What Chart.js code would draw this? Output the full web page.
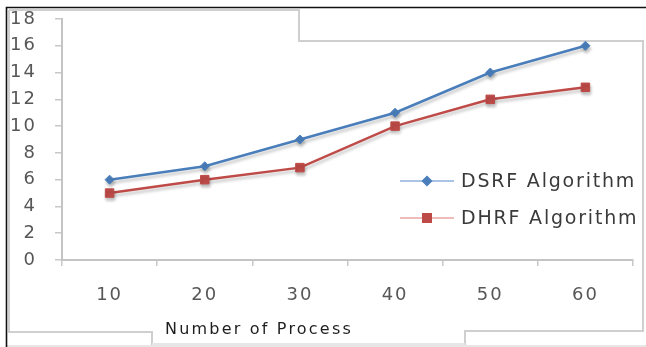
<!DOCTYPE html>
<html>
<head>
<meta charset="utf-8">
<script src="https://cdn.jsdelivr.net/npm/chart.js@4/dist/chart.umd.min.js"></script>
<style>
  html, body { margin: 0; padding: 0; background: #fff; }
  #wrap { width: 646px; height: 347px; position: relative; }
</style>
</head>
<body>
<div id="wrap"><canvas id="c" width="646" height="347"></canvas></div>
<script>
// Number of processes on the x axis
const categories = ['10', '20', '30', '40', '50', '60'];
// Series values
const dsrfValues = [6, 7, 9, 11, 14, 16];
const dhrfValues = [5, 6, 6.9, 10, 12, 12.9];
const seriesNames = ['DSRF Algorithm', 'DHRF Algorithm'];
const axisTitle = 'Number of Process';

const BLUE = '#4a7ebb';
const RED = '#be4b48';

function setShadow(ctx, on) {
  ctx.shadowColor = on ? 'rgba(0,0,0,0.22)' : 'rgba(0,0,0,0)';
  ctx.shadowOffsetX = on ? 1 : 0;
  ctx.shadowOffsetY = on ? 3 : 0;
  ctx.shadowBlur = on ? 3 : 0;
}

// Outer frame, custom legend and axis title
const decor = {
  id: 'decor',
  beforeDraw(chart) {
    const ctx = chart.ctx;
    ctx.save();
    ctx.fillStyle = '#fff';
    ctx.fillRect(0, 0, chart.width, chart.height);
    // grey plot frame
    ctx.strokeStyle = '#cfcfcf';
    ctx.lineWidth = 2;
    ctx.beginPath();
    ctx.moveTo(9, 10); ctx.lineTo(299, 10); ctx.lineTo(299, 41);
    ctx.lineTo(643, 41); ctx.lineTo(643, 331); ctx.lineTo(465, 331); ctx.lineTo(465, 347);
    ctx.moveTo(9, 10); ctx.lineTo(9, 332); ctx.lineTo(152, 332); ctx.lineTo(152, 347);
    ctx.stroke();
    ctx.strokeStyle = '#e6e6e6';
    ctx.beginPath();
    ctx.moveTo(152, 344); ctx.lineTo(465, 344);
    ctx.moveTo(7, 346); ctx.lineTo(646, 346);
    ctx.stroke();
    // black outer border
    ctx.strokeStyle = '#111';
    ctx.lineWidth = 1.6;
    ctx.beginPath();
    ctx.moveTo(646, 7.5); ctx.lineTo(6.5, 7.5); ctx.lineTo(6.5, 347);
    ctx.stroke();
    ctx.restore();
    ctx.letterSpacing = '2px';
  },
  beforeDatasetDraw(chart) {
    setShadow(chart.ctx, true);
  },
  afterDatasetDraw(chart) {
    setShadow(chart.ctx, false);
  },
  afterDraw(chart) {
    const ctx = chart.ctx;
    ctx.save();
    setShadow(ctx, false);
    const rows = [
      { y: 181, line: '#8fb0dc', color: BLUE, style: 'rectRot', r: 4.5 },
      { y: 218, line: '#e8a6a4', color: RED, style: 'rect', r: 6 }
    ];
    rows.forEach((row, i) => {
      ctx.strokeStyle = row.line;
      ctx.lineWidth = 1.5;
      ctx.beginPath();
      ctx.moveTo(400, row.y); ctx.lineTo(454, row.y);
      ctx.stroke();
      ctx.fillStyle = row.color;
      ctx.strokeStyle = row.color;
      Chart.helpers.drawPoint(ctx, { pointStyle: row.style, radius: row.r, borderWidth: 1 }, 427, row.y);
      ctx.fillStyle = '#3a3a3a';
      ctx.font = '19px "DejaVu Sans"';
      ctx.letterSpacing = '1.8px';
      ctx.textAlign = 'left';
      ctx.textBaseline = 'middle';
      ctx.fillText(seriesNames[i], 461, row.y + 1);
    });
    ctx.fillStyle = '#1e1e1e';
    ctx.font = '16px "DejaVu Sans"';
    ctx.letterSpacing = '2.2px';
    ctx.textAlign = 'left';
    ctx.textBaseline = 'middle';
    ctx.fillText(axisTitle, 165, 330);
    ctx.restore();
  }
};

new Chart(document.getElementById('c'), {
  type: 'line',
  data: {
    labels: categories,
    datasets: [
      {
        label: seriesNames[0],
        data: dsrfValues,
        borderColor: BLUE,
        backgroundColor: BLUE,
        borderWidth: 2.5,
        pointStyle: 'rectRot',
        pointRadius: 4.5,
        pointBorderWidth: 1,
        tension: 0
      },
      {
        label: seriesNames[1],
        data: dhrfValues,
        borderColor: RED,
        backgroundColor: RED,
        borderWidth: 2.5,
        pointStyle: 'rect',
        pointRadius: 6,
        pointBorderWidth: 1,
        tension: 0
      }
    ]
  },
  options: {
    responsive: false,
    animation: false,
    layout: { padding: { left: 0, right: 13, top: 19, bottom: 0 } },
    plugins: {
      legend: { display: false },
      tooltip: { enabled: false }
    },
    scales: {
      x: {
        offset: true,
        grid: { offset: true, drawOnChartArea: false, tickLength: 6, color: '#c8c8c8', lineWidth: 1.5 },
        border: { color: '#c4c4c4', width: 2 },
        ticks: { color: '#575757', font: { family: 'DejaVu Sans', size: 18 }, padding: 19, maxRotation: 0 },
        afterFit(scale) { scale.height = 87; scale.paddingLeft = 0; scale.paddingRight = 0; }
      },
      y: {
        min: 0,
        max: 18,
        ticks: { stepSize: 2, color: '#575757', font: { family: 'DejaVu Sans', size: 18 }, padding: 18 },
        grid: { drawOnChartArea: false, tickLength: 7, color: '#c8c8c8', lineWidth: 1.5 },
        border: { color: '#c4c4c4', width: 2 },
        afterFit(scale) { scale.width = 62; scale.paddingTop = 0; scale.paddingBottom = 0; }
      }
    }
  },
  plugins: [decor]
});
</script>
</body>
</html>
